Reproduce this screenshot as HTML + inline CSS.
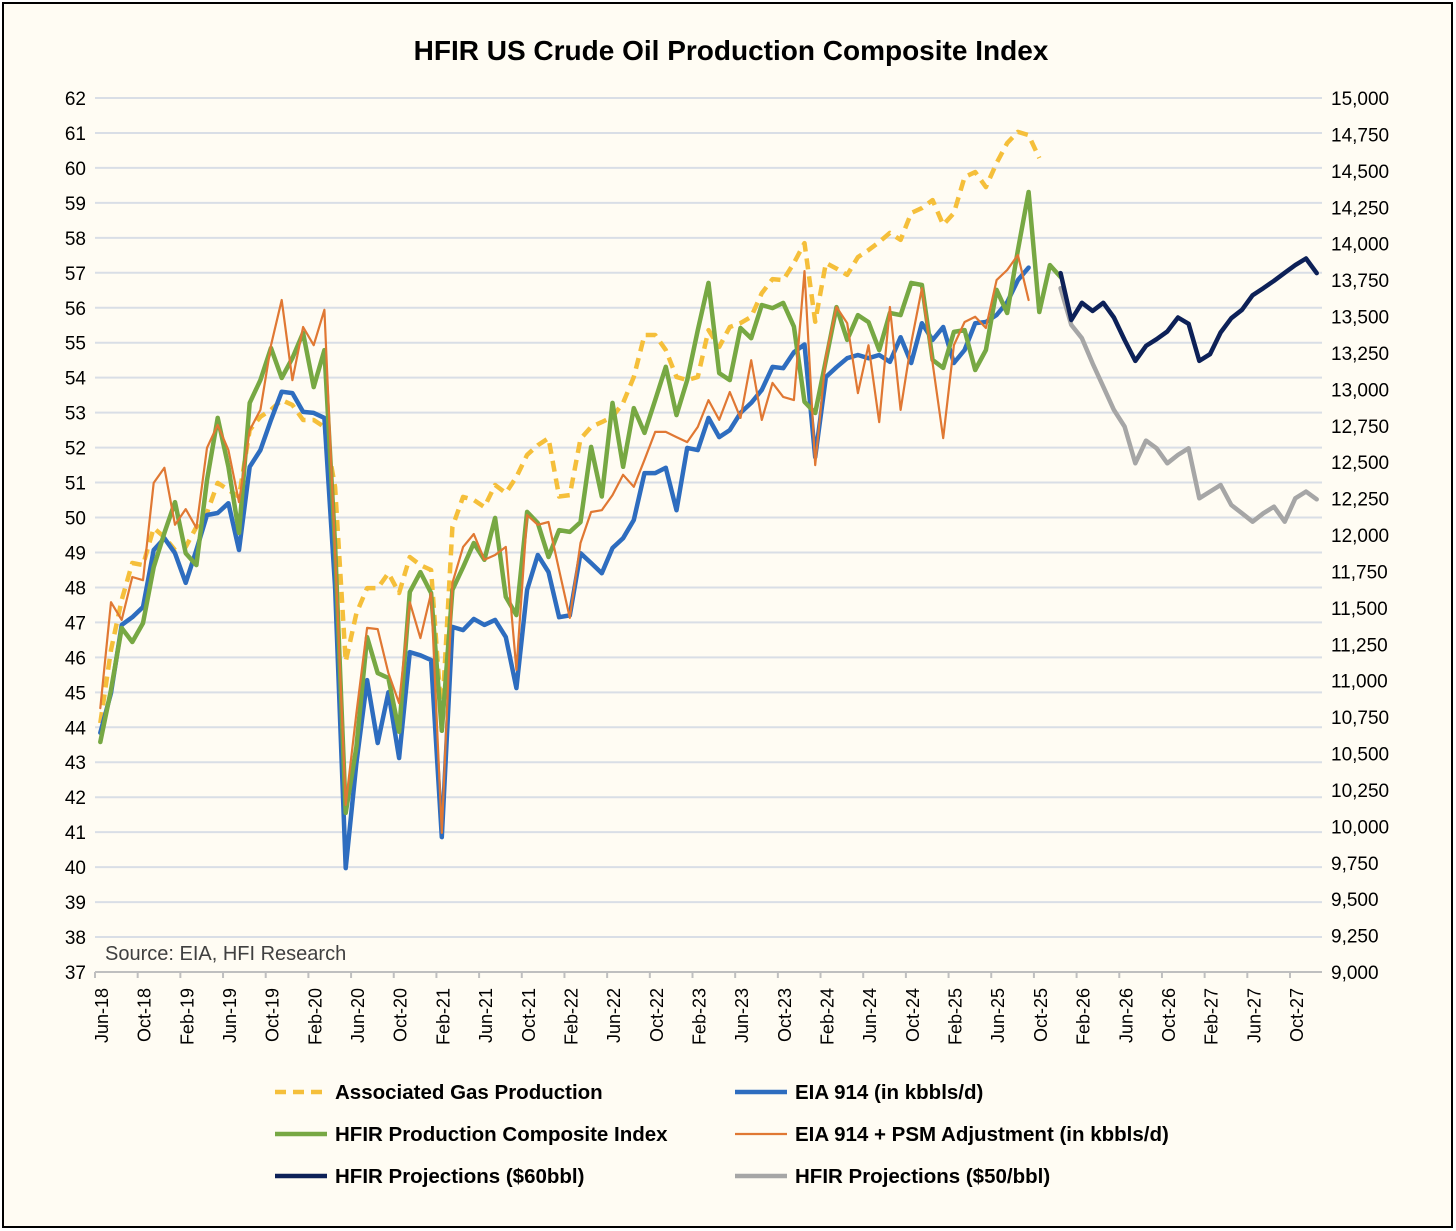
<!DOCTYPE html>
<html><head><meta charset="utf-8"><style>
html,body{margin:0;padding:0;background:#fff;}
#wrap{position:relative;width:1456px;height:1231px;overflow:hidden;}
svg text{font-family:"Liberation Sans",Arial,sans-serif;}
</style></head><body>
<div id="wrap">
<svg id="chart" width="1456" height="1231" viewBox="0 0 1456 1231">
<rect x="3" y="3" width="1449" height="1224" fill="#FFFCF3" stroke="#000" stroke-width="2"/>
<text x="731" y="60" text-anchor="middle" font-size="28" font-weight="bold" fill="#000">HFIR US Crude Oil Production Composite Index</text>
<g id="grid"></g>
<g id="yleft"></g>
<g id="yright"></g>
<g id="xaxis"></g>
<g id="series"></g>
<text x="105" y="960" font-size="20" fill="#404040">Source: EIA, HFI Research</text>
<g id="legend"></g>
</svg>
</div>
<script>
// ---- data ----
const monthLabels = ["Jun-18","Oct-18","Feb-19","Jun-19","Oct-19","Feb-20","Jun-20","Oct-20","Feb-21","Jun-21","Oct-21","Feb-22","Jun-22","Oct-22","Feb-23","Jun-23","Oct-23","Feb-24","Jun-24","Oct-24","Feb-25","Jun-25","Oct-25","Feb-26","Jun-26","Oct-26","Feb-27","Jun-27","Oct-27"];
const leftTicks = [37,38,39,40,41,42,43,44,45,46,47,48,49,50,51,52,53,54,55,56,57,58,59,60,61,62];
const rightTicks = [9000,9250,9500,9750,10000,10250,10500,10750,11000,11250,11500,11750,12000,12250,12500,12750,13000,13250,13500,13750,14000,14250,14500,14750,15000];
// Associated gas production (left axis)
const gasValues = [44.12,46.21,47.64,48.7,48.64,49.7,49.44,49.07,49.16,49.73,50.13,50.99,50.79,50.59,52.5,52.88,53.08,53.36,53.22,52.79,52.79,52.59,50.87,45.88,47.26,47.98,47.98,48.41,47.84,48.87,48.64,48.5,44.21,49.73,50.59,50.5,50.3,50.93,50.7,51.16,51.79,52.07,52.27,50.6,50.64,52.25,52.59,52.73,52.88,53.28,54.02,55.22,55.22,54.79,54.02,53.93,54.02,55.36,54.88,55.45,55.56,55.74,56.42,56.82,56.79,57.28,57.85,55.6,57.28,57.12,56.94,57.45,57.65,57.88,58.14,57.94,58.71,58.85,59.08,58.37,58.71,59.74,59.88,59.45,60.14,60.71,61.03,60.94,60.28];
// EIA 914 (kbbls/d, right axis)
const eia914Values = [10642,10915,11383,11436,11506,11897,11978,11875,11671,11897,12137,12151,12218,11897,12468,12583,12790,12984,12974,12845,12838,12804,11640,9713,10435,11004,10572,10920,10469,11196,11174,11141,9926,11369,11347,11424,11383,11417,11299,10949,11623,11863,11746,11436,11448,11875,11808,11738,11911,11978,12103,12425,12425,12461,12170,12598,12583,12804,12672,12720,12838,12907,12996,13154,13145,13255,13308,12535,13085,13152,13214,13236,13214,13236,13188,13358,13181,13454,13339,13428,13181,13270,13454,13462,13510,13598,13750,13836];
// HFIR Production Composite Index (left axis)
const compositeValues = [43.58,45.07,46.84,46.44,46.98,48.58,49.56,50.44,48.98,48.64,51.07,52.85,51.45,49.56,53.28,53.93,54.85,53.99,54.56,55.28,53.73,54.79,49.2,41.55,43.44,46.58,45.55,45.41,43.87,47.87,48.44,47.84,43.9,47.93,48.58,49.27,48.79,49.99,47.73,47.21,50.16,49.84,48.87,49.64,49.59,49.87,52.02,50.6,53.28,51.45,53.13,52.42,53.36,54.31,52.93,53.93,55.36,56.71,54.13,53.93,55.42,55.13,56.08,55.99,56.14,55.46,53.31,52.99,54.5,56.02,55.08,55.79,55.59,54.79,55.85,55.79,56.71,56.65,54.51,54.28,55.31,55.36,54.22,54.79,56.51,55.85,57.65,59.31,55.88,57.22,56.88];
// EIA 914 + PSM adjustment (kbbls/d, right axis)
const psmValues = [10812,11539,11417,11712,11690,12358,12461,12070,12178,12048,12598,12756,12583,12226,12720,12859,13303,13613,13063,13428,13303,13546,11880,10147,10776,11362,11354,11052,10846,11539,11292,11602,9955,11671,11918,12007,11830,11863,11918,11074,12137,12070,12089,11760,11431,11945,12158,12170,12274,12413,12331,12516,12708,12708,12672,12638,12742,12926,12790,12982,12804,13200,12790,13044,12948,12926,13812,12480,13224,13565,13454,12974,13303,12775,13565,12859,13318,13694,13181,12665,13303,13462,13498,13421,13750,13819,13922,13613];
// Projections start at month index 90 (kbbls/d, right axis)
const projStart = 90;
const proj60Values = [13798,13476,13594,13538,13594,13493,13339,13195,13298,13344,13397,13493,13450,13195,13241,13390,13488,13546,13646,13694,13745,13800,13853,13898,13798];
const proj50Values = [13694,13442,13351,13178,13018,12859,12744,12492,12648,12595,12492,12550,12595,12252,12298,12343,12206,12149,12091,12149,12194,12091,12252,12298,12245];

// ---- scales ----
const NS="http://www.w3.org/2000/svg";
const X0=95, X1=1322, NCAT=115, Y_TOP=98, Y_BOT=972;
const w=(X1-X0)/NCAT;
function xPt(i){return X0+(i+0.5)*w;}
function xTick(i){return X0+i*w;}
function yL(v){return Y_BOT-(v-37)/(62-37)*(Y_BOT-Y_TOP);}
function yR(v){return Y_BOT-(v-9000)/(15000-9000)*(Y_BOT-Y_TOP);}
function mk(tag,attrs,parent){const e=document.createElementNS(NS,tag);for(const k in attrs)e.setAttribute(k,attrs[k]);parent.appendChild(e);return e;}

const grid=document.getElementById('grid');
leftTicks.forEach(v=>{
  const l=mk('line',{x1:X0,x2:X1,y1:yL(v),y2:yL(v),stroke:v===37?'#BFBFBF':'#D9DEE6','stroke-width':2},grid);
  
  
});
const yl=document.getElementById('yleft');
leftTicks.forEach(v=>{
  const t=mk('text',{x:86,y:yL(v)+7,'text-anchor':'end','font-size':19,fill:'#000'},yl);
  t.textContent=v;
  
  
});
const yr=document.getElementById('yright');
rightTicks.forEach(v=>{
  const t=mk('text',{x:1331,y:yR(v)+7,'text-anchor':'start','font-size':19,fill:'#000'},yr);
  t.textContent=v.toLocaleString('en-US');
  
  
});
const xa=document.getElementById('xaxis');
for(let i=0;i<=NCAT;i+=4){
  const tk=mk('line',{x1:xTick(i),x2:xTick(i),y1:Y_BOT,y2:Y_BOT+6,stroke:'#BFBFBF','stroke-width':2},xa);
  
  
}
monthLabels.forEach((lab,k)=>{
  const x=xTick(k*4)+13, y=988;
  const t=mk('text',{x:x,y:y,'text-anchor':'end','font-size':18,fill:'#000',transform:`rotate(-90 ${x} ${y})`},xa);
  t.textContent=lab;
  
  
});

const S=document.getElementById('series');
function line(vals,start,yf,color,width,name,dash){
  const pts=vals.map((v,j)=>xPt(start+j).toFixed(1)+','+yf(v).toFixed(1)).join(' ');
  const p=mk('polyline',{points:pts,fill:'none',stroke:color,'stroke-width':width,'stroke-linejoin':'round','stroke-linecap':dash?'butt':'round'},S);
  if(dash)p.setAttribute('stroke-dasharray',dash);
  
  
}
line(gasValues,0,yL,'#F5BF3A',4.5,'associated-gas-line','11 7');
line(eia914Values,0,yR,'#2E6DBF',4.5,'eia-914-line');
line(compositeValues,0,yL,'#77A843',4.5,'composite-index-line');
line(psmValues,0,yR,'#E07833',2.2,'eia-914-psm-line');
line(proj50Values,projStart,yR,'#A6A6A6',4.5,'projection-50-line');
line(proj60Values,projStart,yR,'#0D2158',4.5,'projection-60-line');

const L=document.getElementById('legend');
const items=[
 [275,1092,'#F5BF3A',4.5,'11 7','Associated Gas Production','legend-associated-gas'],
 [735,1092,'#2E6DBF',4.5,null,'EIA 914 (in kbbls/d)','legend-eia-914'],
 [275,1134,'#77A843',4.5,null,'HFIR Production Composite Index','legend-composite-index'],
 [735,1134,'#E07833',2.2,null,'EIA 914 + PSM Adjustment (in kbbls/d)','legend-eia-psm'],
 [275,1176,'#0D2158',4.5,null,'HFIR Projections ($60bbl)','legend-projection-60'],
 [735,1176,'#A6A6A6',4.5,null,'HFIR Projections ($50/bbl)','legend-projection-50']];
items.forEach(it=>{
  const g=mk('g',{},L);
  
  
  const ln=mk('line',{x1:it[0],x2:it[0]+52,y1:it[1],y2:it[1],stroke:it[2],'stroke-width':it[3]},g);
  if(it[4])ln.setAttribute('stroke-dasharray',it[4]);
  
  
  const t=mk('text',{x:it[0]+60,y:it[1]+7,'font-size':20.5,'font-weight':'bold',fill:'#000'},g);
  t.textContent=it[5];
  
  
});
</script>
</body></html>
